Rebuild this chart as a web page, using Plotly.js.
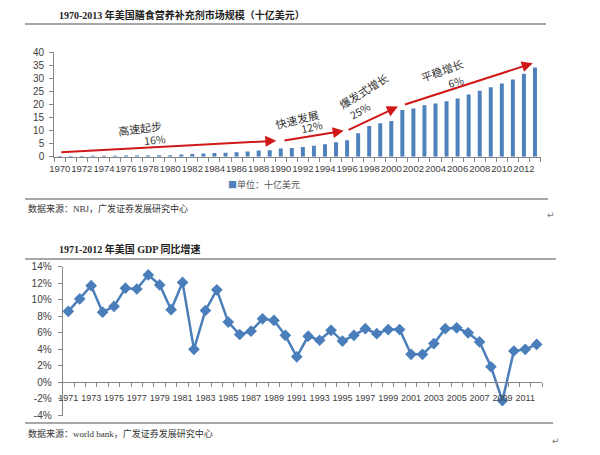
<!DOCTYPE html>
<html><head><meta charset="utf-8">
<script src="https://cdn.plot.ly/plotly-3.0.1.min.js"></script>
<style>html,body{margin:0;padding:0;background:#fff}#c{width:600px;height:455px}</style>
</head><body><div id="c"></div>
<script>
// ---- data ----
const marketYears = [1970,1971,1972,1973,1974,1975,1976,1977,1978,1979,1980,1981,1982,1983,1984,1985,1986,1987,1988,1989,1990,1991,1992,1993,1994,1995,1996,1997,1998,1999,2000,2001,2002,2003,2004,2005,2006,2007,2008,2009,2010,2011,2012,2013];
const marketSize = [0.25,0.28,0.3,0.32,0.35,0.38,0.42,0.45,0.5,0.55,0.6,0.8,1.0,1.2,1.4,1.5,1.7,2.0,2.4,2.5,3.1,3.3,3.7,4.2,4.8,5.5,6.3,9.0,11.8,12.8,13.7,17.9,18.5,19.7,20.4,21.2,22.3,23.8,25.3,26.6,28.0,29.6,31.8,34.2];
const marketTickYears = [1970,1972,1974,1976,1978,1980,1982,1984,1986,1988,1990,1992,1994,1996,1998,2000,2002,2004,2006,2008,2010,2012];
const marketYTicks = [0,5,10,15,20,25,30,35,40];

const gdpYears = [1971,1972,1973,1974,1975,1976,1977,1978,1979,1980,1981,1982,1983,1984,1985,1986,1987,1988,1989,1990,1991,1992,1993,1994,1995,1996,1997,1998,1999,2000,2001,2002,2003,2004,2005,2006,2007,2008,2009,2010,2011,2012];
const gdpGrowth = [8.6,10.1,11.7,8.5,9.2,11.4,11.3,13.0,11.8,8.8,12.1,4.0,8.7,11.2,7.3,5.8,6.2,7.7,7.5,5.7,3.1,5.6,5.1,6.3,5.0,5.7,6.5,5.9,6.4,6.4,3.4,3.4,4.7,6.5,6.6,6.0,4.9,1.9,-2.2,3.8,4.0,4.6];
const gdpTickYears = [1971,1973,1975,1977,1979,1981,1983,1985,1987,1989,1991,1993,1995,1997,1999,2001,2003,2005,2007,2009,2011];
const gdpYTicks = [-4,-2,0,2,4,6,8,10,12,14];
const gdpYTickText = ['-4%','-2%','0%','2%','4%','6%','8%','10%','12%','14%'];

// phases: [startYear, startVal, endYear, endVal]
const phaseArrows = [
  [1970.0, 1.7, 1989.6, 6.1],
  [1990.2, 6.1, 1995.7, 9.9],
  [1996.0, 10.0, 2000.6, 19.2],
  [2001.1, 19.8, 2012.8, 35.8]
];
const phaseNames = ['高速起步','快速发展','爆发式增长','平稳增长'];
const phaseRates = ['16%','12%','25%','6%'];

// ---- helpers ----
const W = 600, H = 455;
const px = x => x / W;
const py = y => 1 - y / H;

const tickFont = {family:'Liberation Sans, Arial, sans-serif', size:10, color:'#404040'};
const tickFontSmall = {family:'Liberation Sans, Arial, sans-serif', size:9, color:'#404040'};
const cjk = 'Liberation Serif, Noto Sans CJK SC, serif';
const hand = 'Noto Sans CJK SC, sans-serif';

const traces = [
  {type:'bar', x:marketYears, y:marketSize, xaxis:'x', yaxis:'y',
   marker:{color:'#4F81BD'}, width:0.36, hoverinfo:'skip', showlegend:false},
  {type:'scatter', mode:'lines+markers', x:gdpYears, y:gdpGrowth, xaxis:'x2', yaxis:'y2',
   line:{color:'#4A7EBB', width:2.5}, marker:{symbol:'diamond', size:9, color:'#4A7EBB'},
   hoverinfo:'skip', showlegend:false}
];

const gdpYMin = -4, gdpYMax = 14;
const gdpDom = [py(415.5), py(266.7)];
const zeroPos = gdpDom[0] + (0 - gdpYMin) / (gdpYMax - gdpYMin) * (gdpDom[1] - gdpDom[0]);

const annotations = [];
phaseArrows.forEach(a => {
  annotations.push({xref:'x', yref:'y', axref:'x', ayref:'y', x:a[2], y:a[3], ax:a[0], ay:a[1],
    text:'', showarrow:true, arrowhead:2, arrowsize:1.1, arrowwidth:2, arrowcolor:'#D01818'});
});
const labelPos = [[140,128,-7],[297,119,-14],[363,91,-32],[442,70,-20]];
const ratePos = [[155,139,-6],[312,126,-12],[360,110,-30],[456,81,-15]];
phaseNames.forEach((t,i) => {
  annotations.push({xref:'paper', yref:'paper', x:px(labelPos[i][0]), y:py(labelPos[i][1]),
    xanchor:'center', yanchor:'middle', text:t, textangle:labelPos[i][2], showarrow:false,
    font:{family:hand, size:11, color:'#333'}});
  annotations.push({xref:'paper', yref:'paper', x:px(ratePos[i][0]), y:py(ratePos[i][1]),
    xanchor:'center', yanchor:'middle', text:phaseRates[i], textangle:ratePos[i][2], showarrow:false,
    font:{family:hand, size:10.5, color:'#333'}});
});
annotations.push({xref:'paper', yref:'paper', x:px(57), y:py(15.5), xanchor:'left', yanchor:'middle', showarrow:false,
  text:'<b>1970-2013 年美国膳食营养补充剂市场规模（十亿美元）</b>', font:{family:cjk, size:10, color:'#222'}});
annotations.push({xref:'paper', yref:'paper', x:px(264), y:py(184), xanchor:'center', yanchor:'middle', showarrow:false,
  text:'<span style="color:#4F81BD">■</span>单位：十亿美元', font:{family:hand, size:9, color:'#555'}});
annotations.push({xref:'paper', yref:'paper', x:px(26), y:py(209), xanchor:'left', yanchor:'middle', showarrow:false,
  text:'数据来源：NBJ，广发证券发展研究中心', font:{family:cjk, size:9, color:'#333'}});
annotations.push({xref:'paper', yref:'paper', x:px(551), y:py(215), xanchor:'center', yanchor:'middle', showarrow:false,
  text:'↵', font:{family:'DejaVu Sans', size:9, color:'#777'}});
annotations.push({xref:'paper', yref:'paper', x:px(57), y:py(249), xanchor:'left', yanchor:'middle', showarrow:false,
  text:'<b>1971-2012 年美国 GDP 同比增速</b>', font:{family:cjk, size:10, color:'#222'}});
annotations.push({xref:'paper', yref:'paper', x:px(26), y:py(433), xanchor:'left', yanchor:'middle', showarrow:false,
  text:'数据来源：world bank，广发证券发展研究中心', font:{family:cjk, size:9, color:'#333'}});
annotations.push({xref:'paper', yref:'paper', x:px(556), y:py(441), xanchor:'center', yanchor:'middle', showarrow:false,
  text:'↵', font:{family:'DejaVu Sans', size:9, color:'#777'}});

const lineStyle = {color:'#8a8a8a', width:1.6};
const shapes = [
  {type:'line', xref:'paper', yref:'paper', x0:px(25), x1:px(546), y0:py(24), y1:py(24), line:lineStyle},
  {type:'line', xref:'paper', yref:'paper', x0:px(25), x1:px(548), y0:py(199), y1:py(199), line:lineStyle},
  {type:'line', xref:'paper', yref:'paper', x0:px(25), x1:px(556), y0:py(259), y1:py(259), line:lineStyle},
  {type:'line', xref:'paper', yref:'paper', x0:px(25), x1:px(553), y0:py(423), y1:py(423), line:lineStyle}
];

const layout = {
  width:W, height:H, margin:{l:0,r:0,t:0,b:0,pad:0},
  paper_bgcolor:'#fff', plot_bgcolor:'rgba(0,0,0,0)', showlegend:false,
  xaxis:{domain:[px(54.2), px(540.5)], anchor:'y', range:[1969.5, 2013.5],
    tickmode:'array', tickvals:marketTickYears, ticktext:marketTickYears.map(String), tickangle:0,
    ticks:'', showgrid:false, zeroline:false, showline:true, linecolor:'#868686', linewidth:1,
    tickfont:{family:'Liberation Sans, Arial, sans-serif', size:9.5, color:'#404040'}, fixedrange:true, ticklabelstandoff:3,
    minor:{tickmode:'linear', tick0:1969.5, dtick:1, ticks:'outside', ticklen:4, tickcolor:'#868686', showgrid:false}},
  yaxis:{domain:[py(156.7), py(52.3)], anchor:'x', range:[0,40], tickmode:'array', tickvals:marketYTicks,
    ticktext:marketYTicks.map(String),
    ticks:'outside', ticklen:4, tickcolor:'#868686', showgrid:false, zeroline:false,
    showline:true, linecolor:'#868686', linewidth:1, tickfont:tickFont, fixedrange:true, ticklabelstandoff:3},
  xaxis2:{domain:[px(62.6), px(542.4)], anchor:'free', position:zeroPos, range:[1970.5, 2012.5],
    tickmode:'array', tickvals:gdpTickYears, ticktext:gdpTickYears.map(String), tickangle:0,
    ticks:'', showgrid:false, zeroline:false, showline:true, linecolor:'#868686', linewidth:1,
    tickfont:tickFontSmall, fixedrange:true, ticklabelstandoff:7,
    minor:{tickmode:'linear', tick0:1970.5, dtick:1, ticks:'outside', ticklen:4, tickcolor:'#868686', showgrid:false}},
  yaxis2:{domain:gdpDom, anchor:'x2', range:[gdpYMin, gdpYMax], tickmode:'array', tickvals:gdpYTicks,
    ticktext:gdpYTickText, ticks:'outside', ticklen:4, tickcolor:'#868686', showgrid:false, zeroline:false,
    showline:true, linecolor:'#868686', linewidth:1, tickfont:tickFont, fixedrange:true, ticklabelstandoff:4},
  annotations:annotations, shapes:shapes
};

Plotly.newPlot('c', traces, layout, {staticPlot:true, displayModeBar:false});
</script>
</body></html>
